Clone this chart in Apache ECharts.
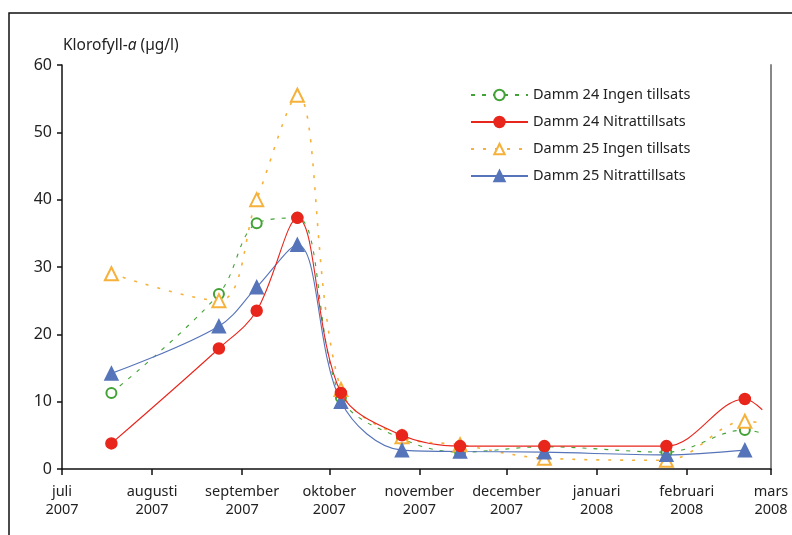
<!DOCTYPE html>
<html>
<head>
<meta charset="utf-8">
<script src="https://cdn.jsdelivr.net/npm/echarts@6/dist/echarts.min.js"></script>
<style>
  html, body { margin: 0; padding: 0; background: #fff; }
  #chart { width: 792px; height: 535px; }
</style>
</head>
<body>
<div id="chart"></div>
<script>
(function (echarts) {
    'use strict';

    // provtagningsdatum
    const sampleDates = ['2007-07-18', '2007-08-24', '2007-09-06', '2007-09-20', '2007-10-05',
        '2007-10-26', '2007-11-15', '2007-12-14', '2008-01-25', '2008-02-21'];
    // linjernas slutpunkt (linjen fortsätter efter sista markören)
    const lineEndDate = '2008-02-27';

    const damm24Ingen = [11.3, 26.0, 36.5, 37.3, 10.6, 4.5, 2.5, 3.3, 2.5, 5.8];
    const damm24Nitrat = [3.8, 17.9, 23.5, 37.3, 11.3, 5.0, 3.4, 3.4, 3.4, 10.4];
    const damm25Ingen = [29.0, 25.0, 40.0, 55.5, 11.8, 4.8, 3.6, 1.6, 1.3, 7.1];
    const damm25Nitrat = [14.2, 21.2, 27.0, 33.3, 10.0, 2.8, 2.6, 2.5, 2.1, 2.8];
    const lineEnds = [5.3, 8.8, 6.8, null];

    const seriesNames = ['Damm 24 Ingen tillsats', 'Damm 24 Nitrattillsats',
        'Damm 25 Ingen tillsats', 'Damm 25 Nitrattillsats'];

    const monthTicks = ['2007-07-01', '2007-08-01', '2007-09-01', '2007-10-01', '2007-11-01',
        '2007-12-01', '2008-01-01', '2008-02-01', '2008-03-01'];
    const monthLabels = ['juli\n2007', 'augusti\n2007', 'september\n2007', 'oktober\n2007',
        'november\n2007', 'december\n2007', 'januari\n2008', 'februari\n2008', 'mars\n2008'];

    // dagar sedan 1 juli 2007
    const day0 = Date.UTC(2007, 6, 1);
    const toDay = (s) => {
        let p = s.split('-');
        return Math.round((Date.UTC(+p[0], +p[1] - 1, +p[2]) - day0) / 86400000);
    };
    const tickValues = monthTicks.map(toDay);

    const FONT = '"Noto Sans", Lato, sans-serif';

    const styles = [
        {color: '#43a236', line: [4, 7], width: 1.1, symbol: 'emptyCircle', size: 10},
        {color: '#e8261c', line: 'solid', width: 1.1, symbol: 'circle', size: 11},
        {color: '#f6b13a', line: [3, 9], width: 1.6, symbol: 'emptyTriangle', size: 13},
        {color: '#5674b9', line: 'solid', width: 1.1, symbol: 'triangle', size: 13}
    ];

    const allValues = [damm24Ingen, damm24Nitrat, damm25Ingen, damm25Nitrat];

    let series = allValues.map((vals, i) => {
        let st = styles[i];
        let data = vals.map((v, k) => [toDay(sampleDates[k]), v]);
        if (lineEnds[i] != null) {
            data.push({value: [toDay(lineEndDate), lineEnds[i]], symbol: 'none'});
        }
        return {
            name: seriesNames[i],
            type: 'line',
            data: data,
            smooth: 0.35,
            symbol: st.symbol,
            symbolSize: st.size,
            showAllSymbol: true,
            lineStyle: {color: st.color, width: st.width, type: st.line},
            itemStyle: {color: st.color, borderColor: st.color, borderWidth: 1.5},
            emphasis: {disabled: true},
            z: 2 + (i === 1 ? 2 : 0)
        };
    });

    let option = {
        animation: false,
        backgroundColor: '#fff',
        textStyle: {fontFamily: FONT, color: '#222'},
        title: {
            text: 'Klorofyll-{i|a} (µg/l)',
            left: 58,
            top: 33,
            textStyle: {
                fontSize: 15.5,
                fontWeight: 'normal',
                color: '#222',
                fontFamily: FONT,
                rich: {i: {fontStyle: 'italic', fontSize: 15.5, color: '#222', fontFamily: FONT}}
            }
        },
        legend: {
            orient: 'vertical',
            left: 465,
            top: 80,
            itemWidth: 57,
            itemHeight: 13,
            itemGap: 7,
            textStyle: {fontSize: 14.5, color: '#222', fontFamily: FONT, lineHeight: 20},
            data: seriesNames
        },
        grid: {left: 62, right: 21, top: 65, bottom: 66},
        xAxis: {
            type: 'value',
            min: tickValues[0],
            max: tickValues[tickValues.length - 1],
            axisLine: {lineStyle: {color: '#111', width: 1.5}},
            axisTick: {show: true, length: 6, customValues: tickValues, lineStyle: {color: '#111', width: 1.5}},
            axisLabel: {
                customValues: tickValues,
                fontSize: 14.5,
                lineHeight: 18,
                margin: 14,
                color: '#222',
                fontFamily: FONT,
                showMinLabel: true,
                showMaxLabel: true,
                formatter: (v) => {
                    let idx = tickValues.indexOf(v);
                    return idx > -1 ? monthLabels[idx] : '';
                }
            },
            splitLine: {show: false}
        },
        yAxis: [{
            type: 'value',
            min: 0,
            max: 60,
            interval: 10,
            axisLine: {show: true, lineStyle: {color: '#111', width: 1.5}},
            axisTick: {show: true, length: 5, lineStyle: {color: '#111', width: 1.5}},
            axisLabel: {fontSize: 16, color: '#222', margin: 10, fontFamily: FONT},
            splitLine: {show: false}
        }, {
            type: 'value',
            position: 'right',
            min: 0,
            max: 60,
            interval: 10,
            axisLine: {show: true, lineStyle: {color: '#888', width: 2}},
            axisTick: {show: false},
            axisLabel: {show: false},
            splitLine: {show: false}
        }],
        graphic: [{
            type: 'polyline',
            silent: true,
            shape: {points: [[9, 535], [9, 13], [792, 13]]},
            style: {stroke: '#111', lineWidth: 1.5, fill: null}
        }],
        series: series
    };

    let chart = echarts.init(document.getElementById('chart'));
    chart.setOption(option);
})(echarts);
</script>
</body>
</html>
